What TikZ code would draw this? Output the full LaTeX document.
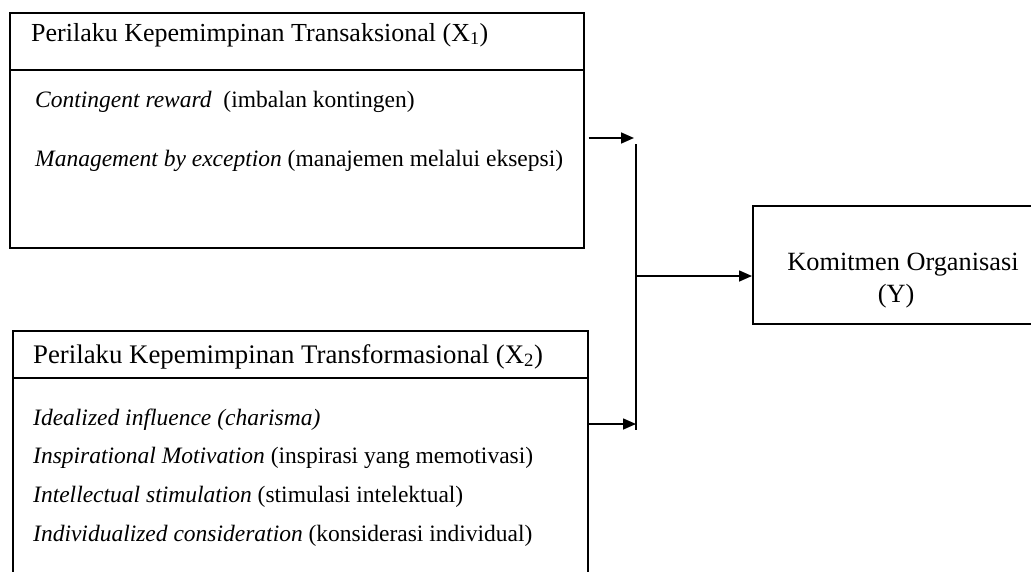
\documentclass[tikz,border=0pt]{standalone}
\usepackage{fontspec}
\setmainfont{Liberation Serif}
\usetikzlibrary{arrows.meta}
\begin{document}
\begin{tikzpicture}[x=1pt,y=-1pt,
  box/.style={draw, line width=1.6pt, rectangle, inner sep=0pt, anchor=north west},
  txt/.style={anchor=base west, inner sep=0pt},
  fh/.style={font=\fontsize{26}{30}\selectfont},
  fhb/.style={font=\fontsize{26.8}{30}\selectfont},
  fi/.style={font=\fontsize{23.5}{28}\selectfont},
  fy/.style={font=\fontsize{26.3}{30}\selectfont},
  link/.style={line width=1.6pt},
  arr/.style={line width=1.6pt, -{Triangle[length=13pt,width=11pt]}}]
\useasboundingbox (0,0) rectangle (1031,571);
\clip (0,0) rectangle (1031,571);
% boxes
\node[box, minimum width=574pt, minimum height=235pt] (b1) at (9,12) {};
\node[box, minimum width=575pt, minimum height=270pt] (b2) at (12,330) {};
\node[box, minimum width=290pt, minimum height=118pt] (by) at (752,205) {};
% header separators
\coordinate (h1) at (0,70);
\coordinate (h2) at (0,378);
\draw[link] (b1.west |- h1) -- (b1.east |- h1);
\draw[link] (b2.west |- h2) -- (b2.east |- h2);
% texts box 1
\node[txt, fh] (t11) at (31,41) {Perilaku Kepemimpinan Transaksional (X\textsubscript{1})};
\node[txt, fi] (t12) at (35,107) {\textit{Contingent reward}\ \ (imbalan kontingen)};
\node[txt, fi] (t13) at (35,166) {\textit{Management by exception} (manajemen melalui eksepsi)};
% texts box 2
\node[txt, fhb] (t21) at (33,363) {Perilaku Kepemimpinan Transformasional (X\textsubscript{2})};
\node[txt, fi] (t22) at (33,425) {\textit{Idealized influence (charisma)}};
\node[txt, fi] (t23) at (33,463) {\textit{Inspirational Motivation} (inspirasi yang memotivasi)};
\node[txt, fi] (t24) at (33,502) {\textit{Intellectual stimulation} (stimulasi intelektual)};
\node[txt, fi] (t25) at (33,541) {\textit{Individualized consideration} (konsiderasi individual)};
% texts box Y
\node[anchor=base, inner sep=0pt, fy] (ty1) at (903,270) {Komitmen Organisasi};
\node[anchor=base, inner sep=0pt, fy] (ty2) at (896,302) {(Y)};
% connectors
\coordinate (vt) at (636,144);
\coordinate (vb) at (636,430);
\coordinate (e1) at (634,138);
\coordinate (e2) at (636,424);
\coordinate (m) at (636,276);
\draw[link] (vt) -- (vb);
\draw[arr] ([xshift=4pt]b1.east |- e1) -- (e1);
\draw[arr] (b2.east |- e2) -- (e2);
\draw[arr] (m) -- (m -| by.west);
\end{tikzpicture}
\end{document}
